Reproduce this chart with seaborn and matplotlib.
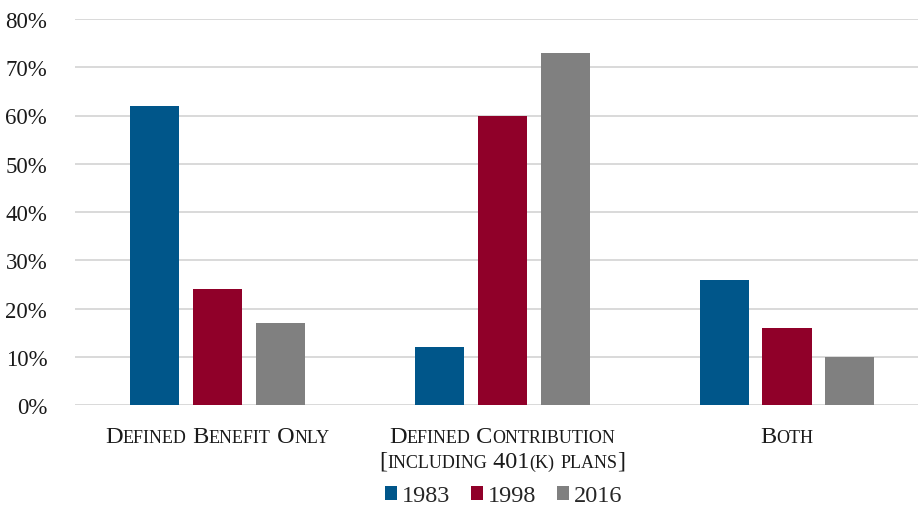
import matplotlib
matplotlib.use("Agg")
import matplotlib.pyplot as plt
import seaborn as sns
import pandas as pd
from matplotlib.offsetbox import TextArea, HPacker, VPacker, AnnotationBbox
from matplotlib.patches import Patch

categories = ["Defined Benefit Only",
              "Defined Contribution\n[including 401(k) plans]",
              "Both"]
years = ["1983", "1998", "2016"]
values_1983 = [62, 12, 26]
values_1998 = [24, 60, 16]
values_2016 = [17, 73, 10]
colors = ["#00568A", "#900029", "#808080"]
yticks = [0, 10, 20, 30, 40, 50, 60, 70, 80]

rows = []
for year, vals in zip(years, [values_1983, values_1998, values_2016]):
    for cat, v in zip(categories, vals):
        rows.append({"category": cat, "year": year, "share": v})
df = pd.DataFrame(rows)

sns.set_theme(style="white")
plt.rcParams["font.family"] = ["Liberation Serif", "DejaVu Serif"]

W, H = 918, 510
fig = plt.figure(figsize=(W / 100, H / 100), dpi=100)
ax = fig.add_axes([75 / W, (H - 406) / H, (918 - 75) / W, (406 - 20) / H])

sns.barplot(data=df, x="category", y="share", hue="year", order=categories,
            hue_order=years, palette=colors, width=0.663, gap=0.22,
            saturation=1, ax=ax, legend=False, linewidth=0)

ax.set_ylim(0, 80)
ax.set_xlim(-0.5, 2.46)
ax.set_yticks(yticks)
ax.set_yticklabels([f"{t}%" for t in yticks], fontsize=16.5, color="#1a1a1a")
ax.tick_params(axis="y", length=0, pad=20)
ax.set_xticks([])
ax.set_xlabel("")
ax.set_ylabel("")
for s in ax.spines.values():
    s.set_visible(False)
ax.set_axisbelow(True)
ax.yaxis.grid(True, color="#d9d9d9", linewidth=1.4)


def small_caps(line, big=17.5, small=13):
    """Build a row of text pieces: capitals at full size, lower case as small capitals."""
    runs = []
    cur, cur_small = "", None
    for ch in line:
        is_small = ch.islower() or ch in "()"
        if ch == " ":
            is_small = False
        if cur_small is None or is_small == cur_small:
            cur += ch
            cur_small = is_small
        else:
            runs.append((cur, cur_small))
            cur, cur_small = ch, is_small
    if cur:
        runs.append((cur, cur_small))
    parts = []
    for txt, sm in runs:
        parts.append(TextArea(txt.upper(), textprops=dict(
            fontsize=small if sm else big, color="#1a1a1a",
            family=["Liberation Serif", "DejaVu Serif"])))
    return HPacker(children=parts, align="baseline", pad=0, sep=0)


for i, cat in enumerate(categories):
    lines = [small_caps(l) for l in cat.split("\n")]
    box = VPacker(children=lines, align="center", pad=0, sep=3)
    ab = AnnotationBbox(box, (i, 0), xybox=(0, -15), xycoords="data",
                        boxcoords="offset points", box_alignment=(0.5, 1),
                        frameon=False, annotation_clip=False)
    ax.add_artist(ab)

handles = [Patch(facecolor=c, edgecolor="none") for c in colors]
fig.legend(handles, years, loc="center", bbox_to_anchor=(504 / W, 1 - 497 / H),
           ncol=3, frameon=False, fontsize=17.5, handlelength=0.5, handleheight=0.5,
           handletextpad=0.2, columnspacing=0.85)

fig.savefig("out.png", dpi=100)
